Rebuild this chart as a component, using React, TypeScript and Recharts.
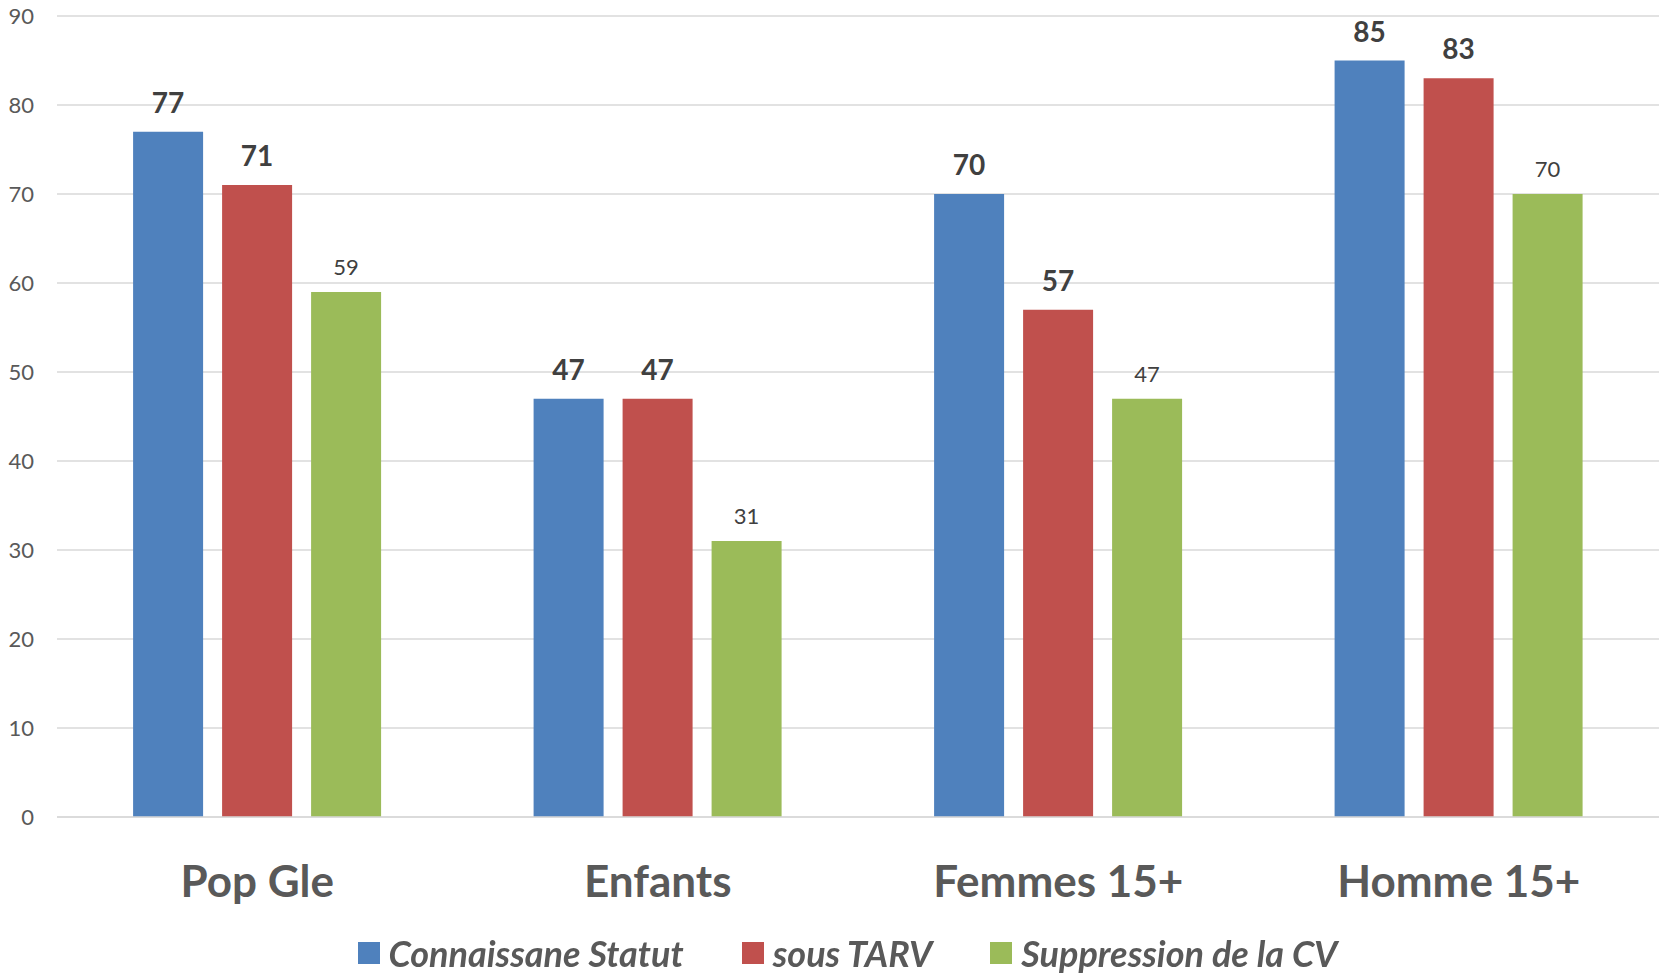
import { BarChart, Bar, XAxis, YAxis, CartesianGrid, Legend, LabelList } from 'recharts';

const categories = ['Pop Gle', 'Enfants', 'Femmes 15+', 'Homme 15+'];
const connaissance = [77, 47, 70, 85];
const sousTarv = [71, 47, 57, 83];
const suppression = [59, 31, 47, 70];
const yTicks = [0, 10, 20, 30, 40, 50, 60, 70, 80, 90];

const series = [
  { key: 'connaissance', name: 'Connaissane Statut', color: '#4F81BD', bold: true },
  { key: 'sousTarv', name: 'sous TARV', color: '#C0504D', bold: true },
  { key: 'suppression', name: 'Suppression de la CV', color: '#9BBB59', bold: false },
];

const data = categories.map((name, i) => ({
  name,
  connaissance: connaissance[i],
  sousTarv: sousTarv[i],
  suppression: suppression[i],
}));

const FONT = 'Lato, "Open Sans", sans-serif';

const CategoryTick = (props: any) => {
  const { x, y, payload } = props;
  return (
    <text x={x} y={y + 55} textAnchor="middle" dominantBaseline="central"
      fill="#595959" fontSize={44} fontWeight={700} fontFamily={FONT}>
      {payload.value}
    </text>
  );
};

const LegendContent = () => (
  <div style={{ display: 'flex', justifyContent: 'center', alignItems: 'center', height: 40, paddingLeft: 36, fontFamily: FONT }}>
    {series.map((s) => (
      <div key={s.key} style={{ display: 'flex', alignItems: 'center', margin: '0 29px' }}>
        <div style={{ width: 22, height: 22, background: s.color, marginRight: 9 }} />
        <span style={{ fontSize: 36, fontWeight: 700, fontStyle: 'italic', color: '#595959' }}>{s.name}</span>
      </div>
    ))}
  </div>
);

export default function App() {
  return (
    <div style={{ position: 'fixed', left: 0, top: 0, background: '#fff' }}>
      <BarChart width={1659} height={973} data={data}
        margin={{ top: 16, right: 0, left: 0, bottom: 0 }}
        barCategoryGap="19%" barGap={19}>
        <CartesianGrid vertical={false} stroke="#d9d9d9" strokeWidth={1.5} />
        <XAxis dataKey="name" axisLine={{ stroke: '#d9d9d9', strokeWidth: 1.5 }} tickLine={false}
          height={116} tick={<CategoryTick />} interval={0} />
        <YAxis domain={[0, 90]} ticks={yTicks} width={57} axisLine={false} tickLine={false}
          tickMargin={17} interval={0}
          tick={{ fill: '#595959', fontSize: 22, fontFamily: FONT }} />
        <Legend verticalAlign="bottom" height={40} content={<LegendContent />} />
        {series.map((s) => (
          <Bar key={s.key} dataKey={s.key} name={s.name} fill={s.color} isAnimationActive={false}>
            <LabelList dataKey={s.key} position="top" offset={s.bold ? 19 : 17}
              fill="#404040" fontSize={s.bold ? 28 : 22} fontWeight={s.bold ? 700 : 400} fontFamily={FONT} />
          </Bar>
        ))}
      </BarChart>
    </div>
  );
}
